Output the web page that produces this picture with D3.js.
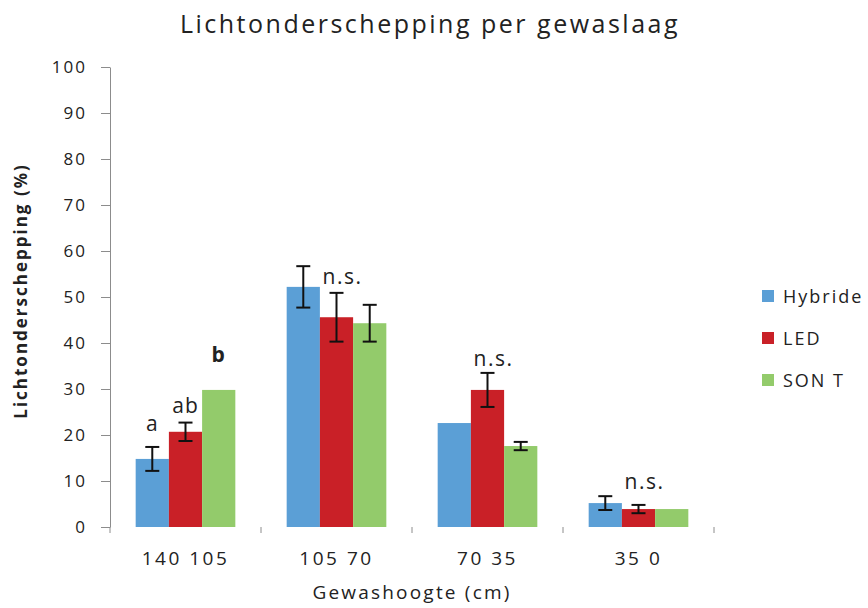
<!DOCTYPE html>
<html>
<head>
<meta charset="utf-8">
<script src="https://cdn.jsdelivr.net/npm/d3@7"></script>
<style>
  body { margin: 0; background: #fff; }
  text { font-family: "Open Sans", "Liberation Sans", sans-serif; fill: #222; }
</style>
</head>
<body>
<div id="chart"></div>
<script>
// data
const categories = ["140 105", "105 70", "70 35", "35 0"];
const seriesNames = ["Hybride", "LED", "SON T"];
const seriesColors = ["#5b9fd6", "#c92027", "#93cb6b"];
const hybride = [14.8, 52.2, 22.6, 5.2];
const led = [20.7, 45.6, 29.8, 3.9];
const sont = [29.8, 44.3, 17.6, 3.9];
const hybrideErr = [2.6, 4.5, 0, 1.5];
const ledErr = [2.0, 5.3, 3.7, 0.9];
const sontErr = [0, 4.0, 0.9, 0];
const letters = [["a", "ab", "b"], ["n.s."], ["n.s."], ["n.s."]];
const yTicks = [0, 10, 20, 30, 40, 50, 60, 70, 80, 90, 100];

const values = [hybride, led, sont];
const errors = [hybrideErr, ledErr, sontErr];

const width = 868, height = 608;
const margin = {left: 110, top: 67, right: 154, bottom: 81};
const w = width - margin.left - margin.right, h = height - margin.top - margin.bottom;

const svg = d3.select("#chart").append("svg")
    .attr("width", width).attr("height", height);
const g = svg.append("g").attr("transform", "translate(" + margin.left + "," + margin.top + ")");

const x = d3.scaleBand().domain(categories).range([0, w]).paddingInner(0.34).paddingOuter(0.17);
const xs = d3.scaleBand().domain(seriesNames).range([0, x.bandwidth()]);
const y = d3.scaleLinear().domain([0, 100]).range([h, 0]);

// y axis
const yAxis = g.append("g").call(d3.axisLeft(y).tickValues(yTicks).tickSize(9).tickPadding(14).tickSizeOuter(0));
yAxis.select(".domain").attr("stroke", "#8c8c8c");
yAxis.selectAll(".tick line").attr("stroke", "#8c8c8c");
yAxis.selectAll(".tick text").style("font-size", "17px").style("letter-spacing", "2px").attr("fill", "#222");

// x category ticks (no baseline)
const step = x.step();
const bounds = d3.range(categories.length + 1).map(i => i * step);
g.selectAll(".xtick").data(bounds).enter().append("line")
    .attr("x1", d => d).attr("x2", d => d)
    .attr("y1", h).attr("y2", h + 6)
    .attr("stroke", "#8c8c8c");

g.selectAll(".xlabel").data(categories).enter().append("text")
    .attr("x", d => x(d) + x.bandwidth() / 2)
    .attr("y", h + 38)
    .attr("text-anchor", "middle")
    .style("font-size", "19px")
    .style("letter-spacing", "2.5px")
    .text(d => d);

// bars
seriesNames.forEach(function(s, si) {
    g.selectAll(".bar" + si).data(categories).enter().append("rect")
        .attr("x", d => x(d) + xs(s))
        .attr("y", (d, i) => y(values[si][i]))
        .attr("width", xs.bandwidth())
        .attr("height", (d, i) => h - y(values[si][i]))
        .attr("fill", seriesColors[si]);
});

// error bars
seriesNames.forEach(function(s, si) {
    categories.forEach(function(c, i) {
        const e = errors[si][i];
        if (!e) return;
        const cx = x(c) + xs(s) + xs.bandwidth() / 2;
        const v = values[si][i];
        const eb = g.append("g").attr("stroke", "#111").attr("stroke-width", 2);
        eb.append("line").attr("x1", cx).attr("x2", cx).attr("y1", y(v + e)).attr("y2", y(v - e));
        eb.append("line").attr("x1", cx - 7).attr("x2", cx + 7).attr("y1", y(v + e)).attr("y2", y(v + e));
        eb.append("line").attr("x1", cx - 7).attr("x2", cx + 7).attr("y1", y(v - e)).attr("y2", y(v - e));
    });
});

// significance letters
categories.forEach(function(c, i) {
    const l = letters[i];
    if (l.length === 3) {
        seriesNames.forEach(function(s, si) {
            const cx = x(c) + xs(s) + xs.bandwidth() / 2;
            const top = values[si][i] + errors[si][i];
            g.append("text")
                .attr("x", cx)
                .attr("y", y(top) - [16, 10, 28][si])
                .attr("text-anchor", "middle")
                .style("font-size", "21px")
                .style("letter-spacing", "1px")
                .style("font-weight", si === 2 ? "bold" : "normal")
                .text(l[si]);
        });
    } else {
        const top = d3.max(values, (v, si) => v[i] + errors[si][i]);
        g.append("text")
            .attr("x", x(c) + x.bandwidth() / 2 + 6)
            .attr("y", y(top) + (i === 1 ? 18 : -7))
            .attr("text-anchor", "middle")
            .style("font-size", "21px")
            .style("letter-spacing", "1.5px")
            .text(l[0]);
    }
});

// titles
svg.append("text").attr("x", 430).attr("y", 33).attr("text-anchor", "middle")
    .style("font-size", "25px").style("letter-spacing", "2.5px")
    .text("Lichtonderschepping per gewaslaag");
svg.append("text").attr("transform", "translate(27," + (margin.top + h / 2 - 6) + ") rotate(-90)")
    .attr("text-anchor", "middle").style("font-size", "17px").style("font-weight", "bold")
    .style("letter-spacing", "2px")
    .text("Lichtonderschepping (%)");
svg.append("text").attr("x", 412).attr("y", 599).attr("text-anchor", "middle")
    .style("font-size", "19px").style("letter-spacing", "2.2px").text("Gewashoogte (cm)");

// legend
const legend = svg.append("g").attr("transform", "translate(762,296)");
seriesNames.forEach(function(s, si) {
    const row = legend.append("g").attr("transform", "translate(0," + si * 42 + ")");
    row.append("rect").attr("x", 0).attr("y", -6).attr("width", 12).attr("height", 12).attr("fill", seriesColors[si]);
    row.append("text").attr("x", 21).attr("y", 7).style("font-size", "18px").style("letter-spacing", "2px").text(s);
});
</script>
</body>
</html>
